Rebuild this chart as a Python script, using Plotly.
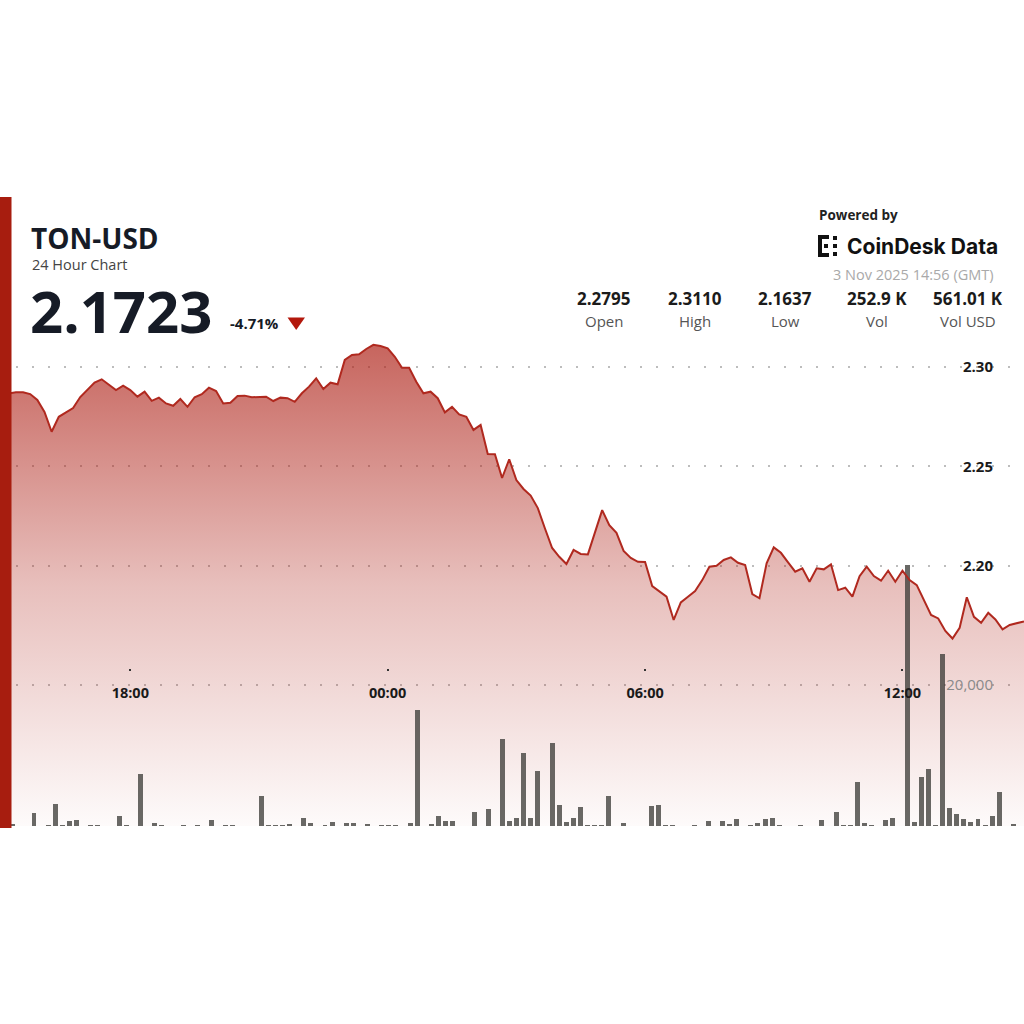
import plotly.graph_objects as go
import pandas as pd

# ---------------- data ----------------
PAIR = "TON-USD"
SUBTITLE = "24 Hour Chart"
LAST_PRICE = "2.1723"
CHANGE = "-4.71%"
STAT_VALUES = ["2.2795", "2.3110", "2.1637", "252.9 K", "561.01 K"]
STAT_LABELS = ["Open", "High", "Low", "Vol", "Vol USD"]
POWERED = "Powered by"
BRAND = "CoinDesk Data"
TIMESTAMP = "3 Nov 2025 14:56 (GMT)"

times = pd.date_range("2025-11-02 15:00", periods=144, freq="10min")

price = [
    2.2868, 2.2866, 2.2872, 2.2872, 2.2863, 2.2833, 2.2773, 2.2674, 2.2749, 2.2771, 2.2793, 2.2848,
    2.2887, 2.2921, 2.2937, 2.2912, 2.2883, 2.2905, 2.2883, 2.2850, 2.2875, 2.2829, 2.2845, 2.2816,
    2.2804, 2.2838, 2.2799, 2.2847, 2.2862, 2.2895, 2.2878, 2.2816, 2.2819, 2.2853, 2.2855, 2.2847,
    2.2848, 2.2850, 2.2828, 2.2845, 2.2842, 2.2824, 2.2867, 2.2900, 2.2942, 2.2888, 2.2920, 2.2912,
    2.3034, 2.3059, 2.3062, 2.3089, 2.3110, 2.3104, 2.3092, 2.3050, 2.2995, 2.2995, 2.2925, 2.2867,
    2.2875, 2.2842, 2.2771, 2.2799, 2.2761, 2.2749, 2.2683, 2.2708, 2.2562, 2.2561, 2.2442, 2.2536,
    2.2432, 2.2387, 2.2354, 2.2291, 2.2189, 2.2091, 2.2047, 2.2011, 2.2081, 2.2061, 2.2059, 2.2166,
    2.2281, 2.2206, 2.2167, 2.2076, 2.2041, 2.2022, 2.2021, 2.1900, 2.1875, 2.1847, 2.1730, 2.1818,
    2.1847, 2.1875, 2.1930, 2.1997, 2.2002, 2.2031, 2.2044, 2.2017, 2.2006, 2.1860, 2.1839, 2.2014,
    2.2094, 2.2067, 2.2019, 2.1972, 2.1989, 2.1922, 2.1989, 2.1984, 2.2009, 2.1880, 2.1892, 2.1847,
    2.1950, 2.1997, 2.1950, 2.1927, 2.1977, 2.1922, 2.1977, 2.1930, 2.1905, 2.1834, 2.1755, 2.1738,
    2.1675, 2.1637, 2.1691, 2.1844, 2.1746, 2.1716, 2.1766, 2.1733, 2.1683, 2.1705, 2.1715, 2.1723,
]

volume = [
    0, 280, 0, 0, 1800, 0, 150, 3080, 150, 700, 850, 0,
    100, 200, 0, 0, 1460, 150, 0, 7330, 0, 470, 100, 0,
    0, 80, 0, 150, 0, 850, 0, 100, 120, 0, 0, 0,
    4260, 100, 200, 200, 300, 0, 1180, 470, 0, 200, 610, 0,
    470, 470, 0, 330, 0, 150, 150, 100, 0, 470, 16450, 0,
    280, 1420, 710, 710, 0, 0, 2030, 0, 2410, 0, 12340, 750,
    1090, 10400, 1090, 7850, 0, 11730, 2980, 520, 1090, 2650, 100, 100,
    100, 4300, 0, 470, 0, 0, 0, 2880, 2980, 80, 80, 0,
    0, 100, 0, 660, 0, 660, 280, 990, 0, 80, 380, 950,
    1180, 80, 0, 0, 150, 0, 0, 850, 0, 1940, 140, 140,
    6290, 470, 80, 0, 850, 1090, 0, 37020, 610, 6900, 8090, 80,
    24350, 2600, 1660, 950, 520, 990, 80, 1420, 4870, 0, 280, 0,
]

price_ticks = [2.20, 2.25, 2.30]
price_tick_text = ["2.20", "2.25", "2.30"]
volume_ticks = [20000]
volume_tick_text = ["20,000"]
time_ticks = ["2025-11-02 18:00", "2025-11-03 00:00", "2025-11-03 06:00", "2025-11-03 12:00"]
time_tick_text = ["18:00", "00:00", "06:00", "12:00"]

# ---------------- layout geometry ----------------
W, H = 1024, 1024
TOP, BOTTOM = 340, 826           # plot area (pixels)
PRICE_RANGE = [2.0697, 2.3134]
VOL_RANGE = [0, 68936]
TIME_RANGE = ["2025-11-02 14:57:46", "2025-11-03 14:50:00"]
BAR_TIME_RANGE = ["2025-11-02 14:52:07", "2025-11-03 14:54:48"]

FONT = "Open Sans"
DARK = "#161b26"
RED = "#a71d0f"


def px(x):
    return x / W


def py(y):
    return (BOTTOM - y) / (BOTTOM - TOP)


fig = go.Figure()

# gradient area under price
fig.add_trace(go.Scatter(
    x=times, y=price, mode="lines", line=dict(width=0, color="rgba(0,0,0,0)"),
    fill="tozeroy",
    fillgradient=dict(
        type="vertical",
        colorscale=[[0, "rgba(175,35,25,0.02)"], [0.5, "rgba(175,35,25,0.29)"],
                    [1, "rgba(175,35,25,0.70)"]],
        start=PRICE_RANGE[0], stop=2.311,
    ),
    hoverinfo="skip", showlegend=False,
))

# volume bars
fig.add_trace(go.Bar(
    x=times, y=volume, xaxis="x2", yaxis="y2",
    width=420000,
    marker=dict(color="rgba(58,58,54,0.76)", line=dict(width=0)),
    hoverinfo="skip", showlegend=False,
))

# price line on top
fig.add_trace(go.Scatter(
    x=times, y=price, xaxis="x3", yaxis="y3", mode="lines",
    line=dict(color="#b0291f", width=2),
    hoverinfo="skip", showlegend=False,
))

grid_style = dict(showgrid=True, gridcolor="#bdbdbd", gridwidth=2, griddash="2px,14px")

fig.update_layout(
    width=W, height=H,
    margin=dict(l=0, r=0, t=TOP, b=H - BOTTOM, pad=0),
    paper_bgcolor="white", plot_bgcolor="white",
    showlegend=False,
    bargap=0,
    xaxis=dict(
        type="date", range=TIME_RANGE, domain=[0, 1],
        anchor="free", position=py(668),
        tickvals=time_ticks, ticktext=time_tick_text,
        ticks="outside", ticklen=2, tickwidth=2, tickcolor="#333",
        ticklabelstandoff=10,
        tickfont=dict(family=FONT, size=14.5, color="#1a1a1a", weight="bold"),
        showgrid=False, showline=False, zeroline=False, fixedrange=True,
    ),
    yaxis=dict(
        range=PRICE_RANGE, side="right", ticklabelposition="inside",
        tickvals=price_ticks, ticktext=price_tick_text, ticks="",
        ticklabelstandoff=28,
        tickfont=dict(family=FONT, size=15, color="#1a1a1a", weight="bold"),
        showline=False, zeroline=False, fixedrange=True, **grid_style,
    ),
    xaxis2=dict(type="date", range=BAR_TIME_RANGE, overlaying="x", visible=False,
                fixedrange=True),
    yaxis2=dict(
        range=VOL_RANGE, overlaying="y", side="right", ticklabelposition="inside",
        tickvals=volume_ticks, ticktext=volume_tick_text, ticks="",
        ticklabelstandoff=28,
        tickfont=dict(family=FONT, size=15, color="#8a8a8a"),
        showline=False, zeroline=False, fixedrange=True, **grid_style,
    ),
    xaxis3=dict(type="date", range=TIME_RANGE, overlaying="x", visible=False,
                fixedrange=True),
    yaxis3=dict(range=PRICE_RANGE, overlaying="y", visible=False, fixedrange=True),
)

ann = []


def text(t, x, y, size, color, anchor="left", weight="normal", family=FONT):
    ann.append(dict(
        text=t, x=px(x), y=py(y), xref="paper", yref="paper",
        xanchor=anchor, yanchor="middle", showarrow=False,
        font=dict(family=family, size=size, color=color, weight=weight),
    ))


text(PAIR, 29, 238, 28, DARK, weight="bold")
text(SUBTITLE, 30, 264.5, 14.5, "#444444")
text(LAST_PRICE, 28, 310, 58, DARK, weight="bold")
text(CHANGE, 228, 323, 15, DARK, weight="bold")
text(POWERED, 817, 215, 13.5, "#222222", weight="bold")
text(BRAND, 845, 246, 21, "#111111", weight="bold", family="Inter")
text(TIMESTAMP, 996, 274, 14.5, "#a9a9a9", anchor="right")

stat_centers = [603.7, 694.5, 785, 876.5, 967.5]
for cx, v, lab in zip(stat_centers, STAT_VALUES, STAT_LABELS):
    text(v, cx, 298.5, 17, "#1b1b1b", anchor="center", weight="bold")
    text(lab, cx, 321, 15, "#555555", anchor="center")

fig.update_layout(annotations=ann)

shapes = []
# red accent bar at the left
shapes.append(dict(type="rect", xref="paper", yref="paper",
                   x0=px(0), x1=px(11.5), y0=py(828), y1=py(197),
                   fillcolor=RED, line=dict(width=0), layer="above"))
# down triangle next to change
tri = [(287.5, 317.5), (305, 317.5), (296.2, 330)]
path = "M {} {} L {} {} L {} {} Z".format(
    px(tri[0][0]), py(tri[0][1]), px(tri[1][0]), py(tri[1][1]), px(tri[2][0]), py(tri[2][1]))
shapes.append(dict(type="path", xref="paper", yref="paper", path=path,
                   fillcolor="#b3180c", line=dict(width=0), layer="above"))
# CoinDesk Data icon (bracket with dots)
icon_rects = [
    (818, 822, 235, 257), (818, 829, 235, 239), (818, 829, 253, 257),
    (824, 828, 244, 248), (833, 837, 236, 240), (833, 837, 252, 256),
    (833, 837, 244, 248),
]
for x0, x1, y0, y1 in icon_rects:
    shapes.append(dict(type="rect", xref="paper", yref="paper",
                       x0=px(x0), x1=px(x1), y0=py(y1), y1=py(y0),
                       fillcolor="#111111", line=dict(width=0), layer="above"))
fig.update_layout(shapes=shapes)

fig.write_html("out.html", config={"displayModeBar": False})
